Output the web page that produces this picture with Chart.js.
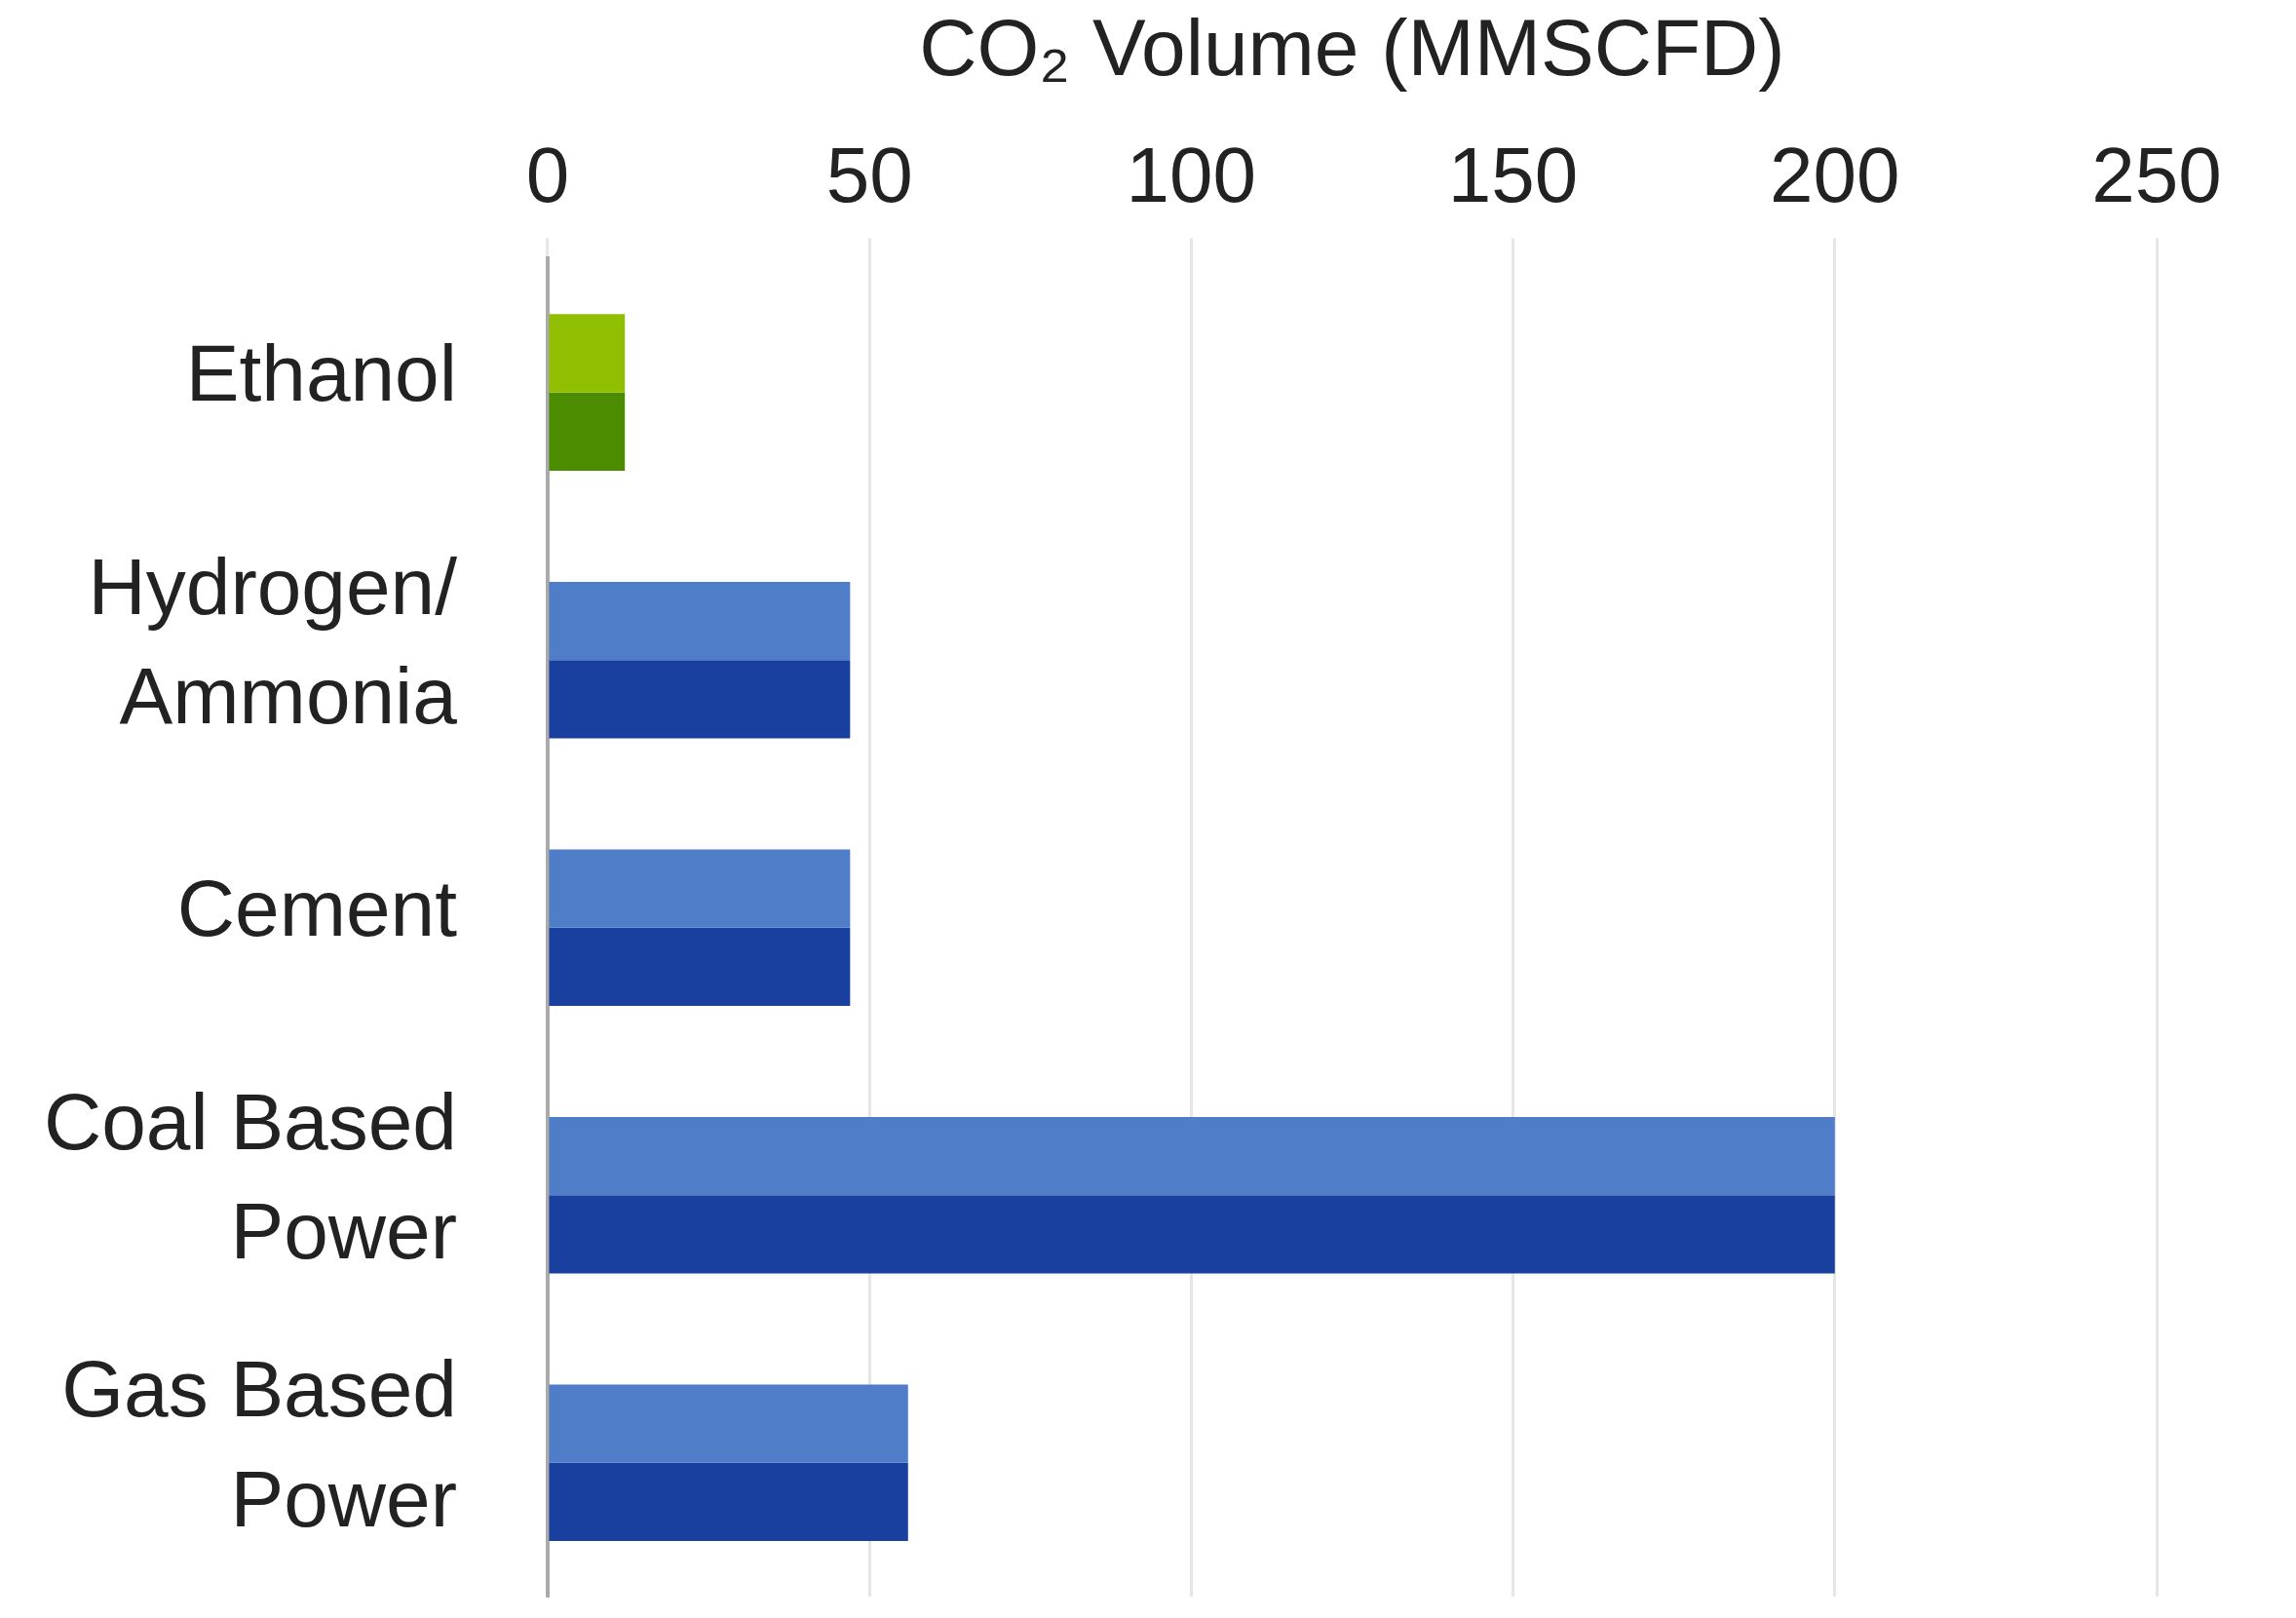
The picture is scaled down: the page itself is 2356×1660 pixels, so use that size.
<!DOCTYPE html>
<html>
<head>
<meta charset="utf-8">
<script src="https://cdn.jsdelivr.net/npm/chart.js@4.4.1/dist/chart.umd.min.js"></script>
<style>
  html, body { margin: 0; padding: 0; background: #fff; overflow: hidden; }
  #wrap { width: 2356px; height: 1660px; }
</style>
</head>
<body>
<div id="wrap"><canvas id="co2Chart"></canvas></div>
<script>
const categories = [
    'Ethanol',
    ['Hydrogen/', 'Ammonia'],
    'Cement',
    ['Coal Based', 'Power'],
    ['Gas Based', 'Power']
];
const upperValues = [12, 47, 47, 200, 56];
const lowerValues = [12, 47, 47, 200, 56];
const xTicks = [0, 50, 100, 150, 200, 250];

const upperColors = ['#8fbf00', '#4f7dc8', '#4f7dc8', '#4f7dc8', '#4f7dc8'];
const lowerColors = ['#4c8c00', '#193f9f', '#193f9f', '#193f9f', '#193f9f'];

document.addEventListener('DOMContentLoaded', function () {
    const ctx = document.getElementById('co2Chart').getContext('2d');
    const family = "'Liberation Sans', Arial, sans-serif";

    new Chart(ctx, {
        type: 'bar',
        data: {
            labels: categories,
            datasets: [
                { label: 'upper', data: upperValues, backgroundColor: upperColors,
                  categoryPercentage: 0.585, barPercentage: 1.0 },
                { label: 'lower', data: lowerValues, backgroundColor: lowerColors,
                  categoryPercentage: 0.585, barPercentage: 1.0 }
            ]
        },
        options: {
            indexAxis: 'y',
            responsive: true,
            maintainAspectRatio: false,
            animation: false,
            layout: { padding: { left: 45, right: 143, top: 5, bottom: 22 } },
            plugins: { legend: { display: false }, tooltip: { enabled: false } },
            scales: {
                x: {
                    position: 'top',
                    min: 0,
                    max: 250,
                    afterBuildTicks: function (axis) {
                        axis.ticks = xTicks.map(v => ({ value: v }));
                    },
                    ticks: { font: { family: family, size: 80 }, color: '#222', padding: 11 },
                    grid: { color: '#e6e6e6', lineWidth: 3, drawTicks: true, tickLength: 21 },
                    border: { display: false },
                    title: {
                        display: true,
                        text: 'CO₂ Volume (MMSCFD)',
                        font: { family: family, size: 82 },
                        color: '#222',
                        padding: { top: 0, bottom: 23 }
                    }
                },
                y: {
                    ticks: {
                        font: { family: family, size: 82, lineHeight: 1.37 },
                        color: '#222',
                        padding: 93,
                        labelOffset: -14
                    },
                    grid: { display: false, drawTicks: false },
                    border: { display: true, color: '#aaaaaa', width: 4 },
                    afterFit: function (axis) {
                        // drop the doubled tick padding and the label overhang
                        axis.width -= axis.options.ticks.padding;
                        axis.paddingTop = 0;
                        axis.paddingBottom = 0;
                    }
                }
            }
        }
    });
});
</script>
</body>
</html>
